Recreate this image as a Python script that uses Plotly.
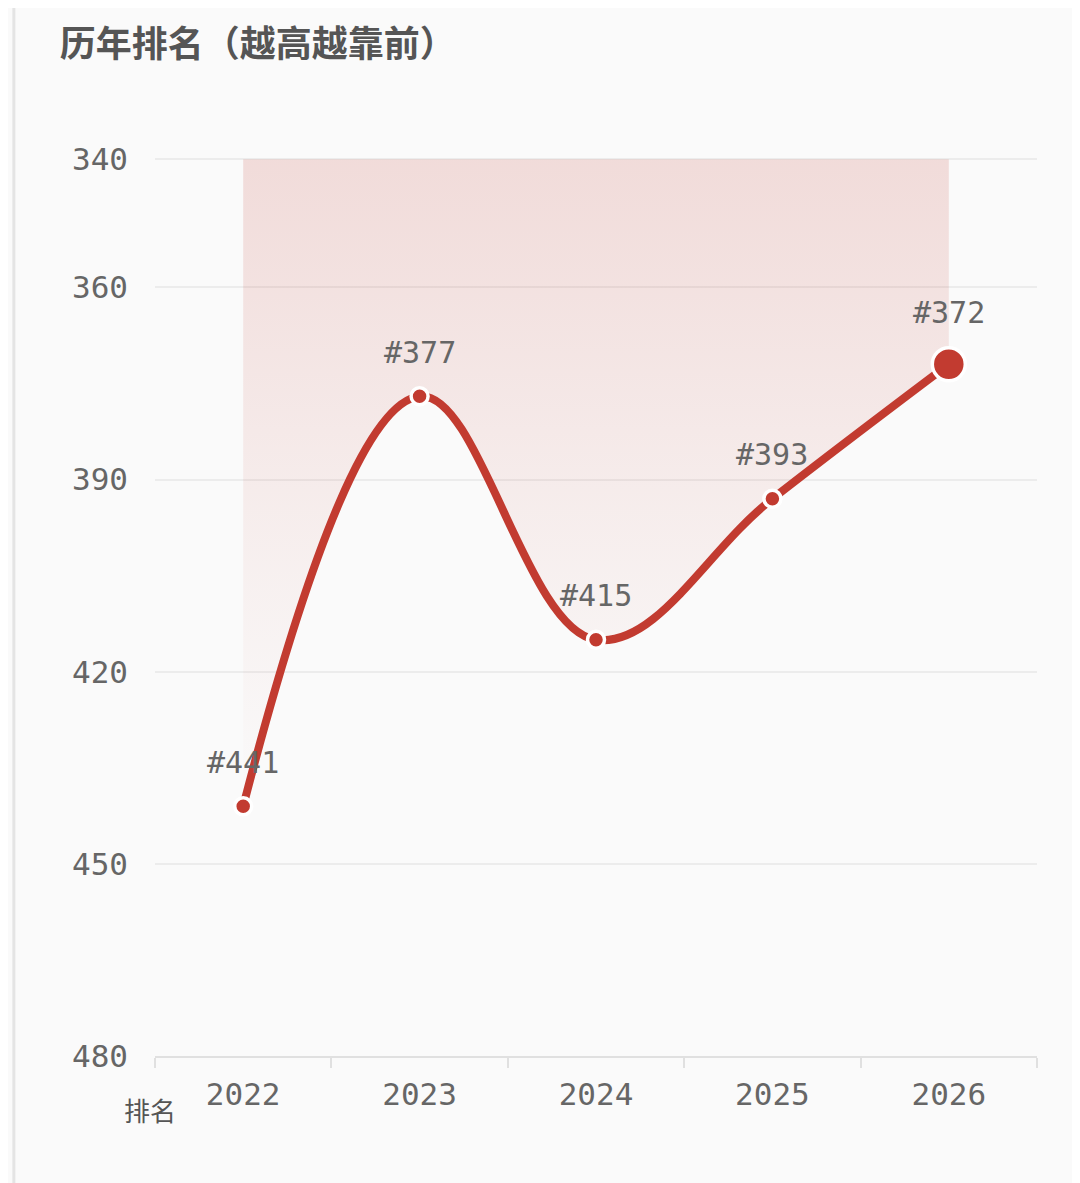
import plotly.graph_objects as go

# 历年排名数据
years = ["2022", "2023", "2024", "2025", "2026"]
ranks = [441, 377, 415, 393, 372]
rank_labels = ["#441", "#377", "#415", "#393", "#372"]
y_ticks = [340, 360, 390, 420, 450, 480]

line_color = "#c23b30"
mono = "DejaVu Sans Mono"
cjk = "Noto Sans CJK SC"

marker_sizes = [17] * (len(years) - 1) + [33]
label_shift = [44] * (len(years) - 1) + [52]

fig = go.Figure()

# baseline at the top of the axis, the area is filled up to it
fig.add_trace(go.Scatter(
    x=years, y=[y_ticks[0]] * len(years),
    mode="lines", line=dict(width=0, color="rgba(0,0,0,0)"),
    hoverinfo="skip", showlegend=False,
))

fig.add_trace(go.Scatter(
    x=years, y=ranks,
    mode="lines",
    line=dict(color=line_color, width=8, shape="spline", smoothing=1.1),
    fill="tonexty",
    fillgradient=dict(
        type="vertical",
        colorscale=[[0, "rgba(194,59,48,0.0)"], [0.35, "rgba(194,59,48,0.05)"], [1, "rgba(194,59,48,0.16)"]],
    ),
    hoverinfo="skip",
    showlegend=False,
))

fig.add_trace(go.Scatter(
    x=years, y=ranks,
    mode="markers",
    marker=dict(size=marker_sizes, color=line_color, opacity=1,
                line=dict(color="white", width=3.5)),
    cliponaxis=False,
    showlegend=False,
))

annotations = []
# category axis: place labels by category index
for i, (r, lab, sh) in enumerate(zip(ranks, rank_labels, label_shift)):
    annotations.append(dict(
        x=i, y=r, text=lab, showarrow=False, yshift=sh,
        xanchor="center", yanchor="middle",
        font=dict(family=mono, size=30, color="#666666"),
    ))

annotations.append(dict(
    text="排名", xref="paper", yref="paper",
    x=0.026, y=-0.06, xanchor="right", yanchor="middle",
    showarrow=False,
    font=dict(family=cjk, size=26, color="#555555"),
))

fig.update_layout(
    width=1080, height=1183,
    margin=dict(l=147, r=51, t=150, b=135),
    paper_bgcolor="#fafafa",
    plot_bgcolor="#fafafa",
    title=dict(
        text="<b>历年排名（越高越靠前）</b>",
        x=0.048, xref="container", xanchor="left",
        y=0.969, yanchor="middle",
        font=dict(family=cjk, size=36, color="#555555"),
    ),
    xaxis=dict(
        type="category",
        range=[-0.5, 4.5],
        showgrid=False,
        showline=True, linecolor="#e0e0e0", linewidth=2,
        ticks="outside", tickson="boundaries", ticklen=10, tickcolor="#e0e0e0", tickwidth=2,
        tickfont=dict(family=mono, size=31, color="#666666"),
        ticklabelstandoff=10,
        zeroline=False,
    ),
    yaxis=dict(
        range=[480, 339.8],
        tickvals=y_ticks,
        showgrid=True, gridcolor="#ececec", gridwidth=2,
        zeroline=False, showline=False,
        tickfont=dict(family=mono, size=31, color="#666666"),
        ticklabelstandoff=26,
    ),
    shapes=[dict(
        type="line", xref="paper", yref="paper",
        x0=-0.16, x1=-0.16, y0=-0.2, y1=1.2,
        line=dict(color="#e4e4e4", width=3),
    )],
    annotations=annotations,
)

fig.write_html("out.html")
